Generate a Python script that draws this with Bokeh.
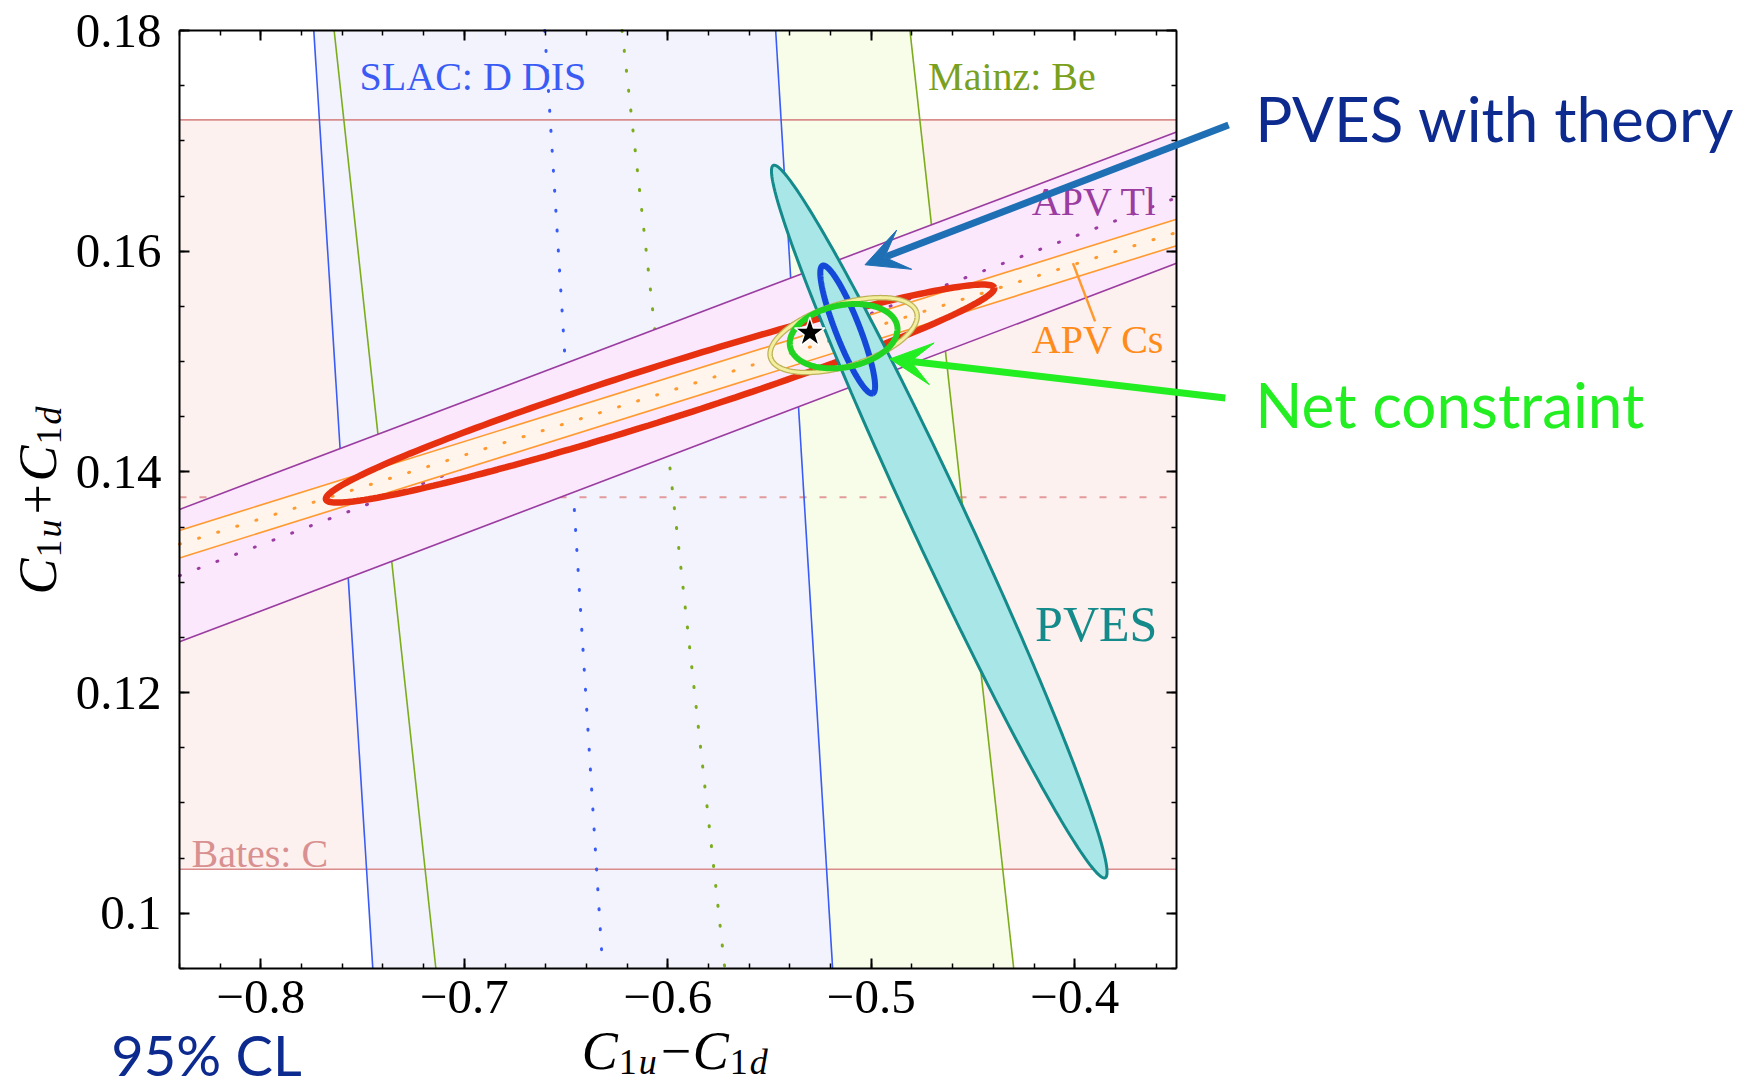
import numpy as np
from bokeh.plotting import figure
from bokeh.models import Label, Arrow, VeeHead, LinearAxis, FixedTicker
from bokeh.embed import file_html
from bokeh.resources import INLINE

# ---------------- data ----------------
x_box = [-0.84, -0.35]          # plotted box (axes limits)
y_box = [0.095, 0.18]
x_ticks = [-0.8, -0.7, -0.6, -0.5, -0.4]
x_tick_labels = ["−0.8", "−0.7", "−0.6", "−0.5", "−0.4"]
y_ticks = [0.10, 0.12, 0.14, 0.16, 0.18]
y_tick_labels = ["0.1", "0.12", "0.14", "0.16", "0.18"]

# Bates: C  (horizontal band)
bates_y = [0.1040, 0.1719]          # lower, upper boundary
bates_mid = 0.1377

# vertical bands: boundary x at the top (y=0.18) and at the bottom (y=0.095)
slac_left = [-0.774, -0.745]
slac_right = [-0.547, -0.519]
mainz_left = [-0.764, -0.714]
mainz_right = [-0.481, -0.430]

# diagonal bands: boundary y at the left edge (x=-0.84) and right edge (x=-0.35)
apv_tl_upper = [0.1366, 0.1708]
apv_tl_lower = [0.1246, 0.1589]
apv_cs_upper = [0.1347, 0.1629]
apv_cs_lower = [0.1322, 0.1605]

# ellipses: centre, conjugate half-axis vectors A and B (data units)
red_c, red_A, red_B = (-0.6038, 0.1471), (0.1642, 0.0096), (0.00402, -0.00233)
pves_c, pves_A, pves_B = (-0.4666, 0.1355), (0.08155, -0.03228), (0.01227, 0.00105)
theory_c, theory_A, theory_B = (-0.5116, 0.1529), (0.0123, -0.00579), (0.0055, 0.000395)
net_c, net_A, net_B = (-0.5136, 0.1523), (0.02632, 0.00094), (0.0029, -0.00276)
yel_c, yel_A, yel_B = (-0.5136, 0.1524), (0.03586, 0.00207), (0.00459, -0.00269)

star_xy = (-0.5302, 0.1526)

# arrows: tail -> head
arrow_theory = [(-0.3244, 0.17144), (-0.5031, 0.15877)]
arrow_net = [(-0.3260, 0.14670), (-0.4908, 0.15024)]
cs_pointer = [(-0.4009, 0.15892), (-0.3900, 0.15364)]

# ---------------- layout (pixels) ----------------
W, H = 1754, 1088
BOX_LEFT, BOX_TOP, BOX_W, BOX_H = 179, 30, 997, 938
xl, xr = x_box
yb, yt = y_box
sx = BOX_W / (xr - xl)
sy = BOX_H / (yt - yb)
x_start = xl - BOX_LEFT / sx
y_end = yt + BOX_TOP / sy
x_rng = (x_start, x_start + W / sx)
y_rng = (y_end - H / sy, y_end)

p = figure(x_range=x_rng, y_range=y_rng, frame_width=W, frame_height=H,
           min_border=0, min_border_left=0, min_border_right=0,
           min_border_top=0, min_border_bottom=0,
           x_axis_location=None, y_axis_location=None,
           output_backend="svg", toolbar_location=None)
p.grid.visible = False
p.background_fill_color = "white"
p.border_fill_color = "white"
p.outline_line_color = None

SERIF = "Liberation Serif"

# --- Bates band
p.patch([xl, xr, xr, xl], [bates_y[0], bates_y[0], bates_y[1], bates_y[1]],
        fill_color="#fdf1ef", line_color=None)
# --- Mainz band
p.patch([mainz_left[0], mainz_right[0], mainz_right[1], mainz_left[1]], [yt, yt, yb, yb],
        fill_color="#f8fdea", line_color=None)
# --- SLAC band
p.patch([slac_left[0], slac_right[0], slac_right[1], slac_left[1]], [yt, yt, yb, yb],
        fill_color="#f2f3fd", line_color=None)

DOT = dict(line_width=3, line_dash="1 19", line_cap="round")

# Bates lines
for yv in bates_y:
    p.line([xl, xr], [yv, yv], line_color="#d98c8c", line_width=1.6)
p.line([xl, xr], [bates_mid, bates_mid], line_color="#e39a9a", line_width=2, line_dash="7 13")

# Mainz lines
for b in (mainz_left, mainz_right):
    p.line([b[0], b[1]], [yt, yb], line_color="#7cac1c", line_width=1.6)
p.line([(mainz_left[0] + mainz_right[0]) / 2, (mainz_left[1] + mainz_right[1]) / 2], [yt, yb],
       line_color="#7cac1c", **DOT)

# SLAC lines
for b in (slac_left, slac_right):
    p.line([b[0], b[1]], [yt, yb], line_color="#3a5cf5", line_width=1.6)
p.line([(slac_left[0] + slac_right[0]) / 2, (slac_left[1] + slac_right[1]) / 2], [yt, yb],
       line_color="#3a5cf5", **DOT)

# APV Tl band
p.patch([xl, xr, xr, xl], [apv_tl_lower[0], apv_tl_lower[1], apv_tl_upper[1], apv_tl_upper[0]],
        fill_color="#fce8fc", line_color=None)
for b in (apv_tl_upper, apv_tl_lower):
    p.line([xl, xr], b, line_color="#9a3ca0", line_width=1.6)
p.line([xl, xr], [(apv_tl_upper[0] + apv_tl_lower[0]) / 2, (apv_tl_upper[1] + apv_tl_lower[1]) / 2],
       line_color="#9a3ca0", **DOT)

# APV Cs band
p.patch([xl, xr, xr, xl], [apv_cs_lower[0], apv_cs_lower[1], apv_cs_upper[1], apv_cs_upper[0]],
        fill_color="#fff5ec", line_color=None)
for b in (apv_cs_upper, apv_cs_lower):
    p.line([xl, xr], b, line_color="#ff9a30", line_width=1.6)
p.line([xl, xr], [(apv_cs_upper[0] + apv_cs_lower[0]) / 2, (apv_cs_upper[1] + apv_cs_lower[1]) / 2],
       line_color="#ff9a30", **DOT)


def ellipse(c, A, B, n=240):
    t = np.linspace(0, 2 * np.pi, n)
    return (c[0] + A[0] * np.cos(t) + B[0] * np.sin(t),
            c[1] + A[1] * np.cos(t) + B[1] * np.sin(t))


ex, ey = ellipse(red_c, red_A, red_B)
p.line(ex, ey, line_color="#e63010", line_width=6.5)

ex, ey = ellipse(pves_c, pves_A, pves_B)
p.patch(ex, ey, fill_color="#a8e6e8", line_color="#148a8a", line_width=3)

ex, ey = ellipse(theory_c, theory_A, theory_B)
p.line(ex, ey, line_color="#1448d8", line_width=6)

ex, ey = ellipse(yel_c, yel_A, yel_B)
p.line(ex, ey, line_color="#bdb25a", line_width=5.5)
p.line(ex, ey, line_color="#f3ef9f", line_width=3)

ex, ey = ellipse(net_c, net_A, net_B)
p.line(ex, ey, line_color="#22d422", line_width=6)

p.scatter([star_xy[0]], [star_xy[1]], marker="star", size=32,
          fill_color="black", line_color="white", line_width=1.5)

# APV Cs pointer
p.line([cs_pointer[0][0], cs_pointer[1][0]], [cs_pointer[0][1], cs_pointer[1][1]],
       line_color="#ff9a30", line_width=2.5)


def lab(x, y, text, color, size, font=SERIF, style="normal", **kw):
    p.add_layout(Label(x=x, y=y, text=text, text_color=color, text_font=font,
                       text_font_size=f"{size}px", text_font_style=style,
                       text_baseline="alphabetic", **kw))


lab(-0.7515, 0.17585, "SLAC: D DIS", "#3a5cf5", 40)
lab(-0.4721, 0.17585, "Mainz: Be", "#7aa020", 40)
lab(-0.8341, 0.1054, "Bates: C", "#d89090", 40)
lab(-0.4211, 0.16446, "APV Tl", "#9a3ca0", 40)
lab(-0.4211, 0.15203, "APV Cs", "#ff8c1a", 40)
lab(-0.4195, 0.1262, "PVES", "#158a8a", 50)

# arrows
for (tail, head), col in ((arrow_theory, "#1f6fb5"), (arrow_net, "#22ee22")):
    p.add_layout(Arrow(x_start=tail[0], y_start=tail[1], x_end=head[0], y_end=head[1],
                       line_color=col, line_width=7,
                       end=VeeHead(size=42, fill_color=col, line_color=col, line_width=1)))

# texts to the right and below the box
lab(-0.3113, 0.17203, "PVES with theory", "#0d2a8f", 62, font="Lato")
lab(-0.3113, 0.14613, "Net constraint", "#22ee22", 62, font="Lato")
lab(-0.8735, 0.0872, "95% CL", "#0d2a8f", 56, font="Lato")

# axis titles built from pieces (C_{1u} - C_{1d}, C_{1u} + C_{1d})
MAIN, SUB = 54, 36
xt_x, xt_y = -0.6423, 0.0875
pieces_x = [("C", 0, MAIN, "italic", 0), ("1", 37, SUB, "normal", -11), ("u", 57, SUB, "italic", -11),
            ("−", 79, MAIN, "normal", 0), ("C", 111, MAIN, "italic", 0),
            ("1", 148, SUB, "normal", -11), ("d", 168, SUB, "italic", -11)]
for t, dx, sz, st, dy in pieces_x:
    lab(xt_x, xt_y, t, "black", sz, style=st, x_offset=dx, y_offset=dy)

yt_x, yt_y = -0.9096, 0.1289
pieces_y = [("C", 0, MAIN, "italic", 0), ("1", 37, SUB, "normal", 11), ("u", 57, SUB, "italic", 11),
            ("+", 80, MAIN, "normal", 0), ("C", 113, MAIN, "italic", 0),
            ("1", 150, SUB, "normal", 11), ("d", 170, SUB, "italic", 11)]
for t, dy, sz, st, dx in pieces_y:
    lab(yt_x, yt_y, t, "black", sz, style=st, x_offset=dx, y_offset=dy, angle=np.pi / 2)

# ---------------- axes forming the box ----------------
x_minor = [round(v, 3) for v in np.arange(-0.84, -0.349, 0.02)]
y_minor = [round(v, 4) for v in np.arange(0.095, 0.1801, 0.005)]


def make_axis(loc, bounds, ticks, minor, labels, show):
    ax = LinearAxis(fixed_location=loc, bounds=tuple(bounds))
    ax.ticker = FixedTicker(ticks=ticks, minor_ticks=minor)
    ax.axis_line_color = "black"
    ax.axis_line_width = 2
    ax.major_tick_in = 10
    ax.major_tick_out = 0
    ax.minor_tick_in = 5
    ax.minor_tick_out = 0
    ax.major_tick_line_width = 2
    ax.minor_tick_line_width = 1.5
    ax.major_tick_line_color = "black"
    ax.minor_tick_line_color = "black"
    if show:
        ax.major_label_overrides = {t: l for t, l in zip(ticks, labels)}
        ax.major_label_text_font = SERIF
        ax.major_label_text_font_size = "49px"
        ax.major_label_text_color = "black"
    else:
        ax.major_label_text_color = None
    return ax


bottom = make_axis(yb, x_box, x_ticks, x_minor, x_tick_labels, True)
bottom.major_label_standoff = 12
p.add_layout(bottom, "below")
left = make_axis(xl, y_box, y_ticks, y_minor, y_tick_labels, True)
left.major_label_standoff = 18
p.add_layout(left, "left")
top = make_axis(yt, x_box, x_ticks, x_minor, x_tick_labels, False)
p.add_layout(top, "above")
right = make_axis(xr, y_box, y_ticks, y_minor, y_tick_labels, False)
p.add_layout(right, "right")

open("out.html", "w").write(file_html(p, INLINE))
